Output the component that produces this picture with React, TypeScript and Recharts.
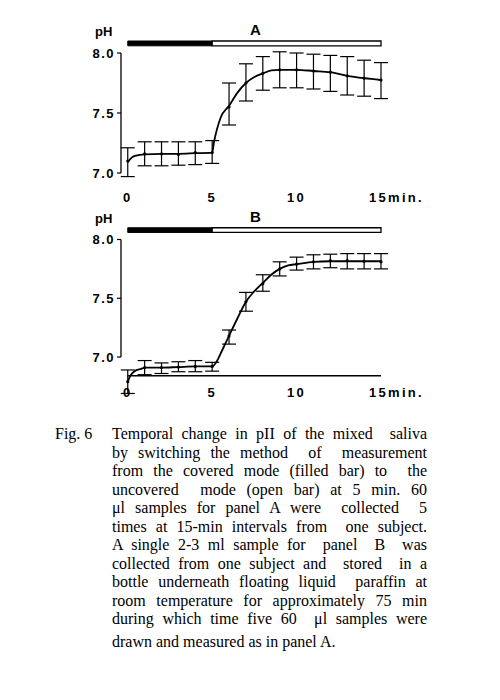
import React from 'react';
import { ComposedChart, Line, Scatter, ErrorBar, XAxis, YAxis, ReferenceArea, ReferenceLine } from 'recharts';

// sampling minutes for the error bars
const minutes = [0, 1, 2, 3, 4, 5, 6, 7, 8, 9, 10, 11, 12, 13, 14, 15];

// panel A
const meanA = [7.10, 7.16, 7.16, 7.155, 7.17, 7.17, 7.55, 7.75, 7.83, 7.86, 7.86, 7.85, 7.84, 7.81, 7.79, 7.775];
const upperA = [7.21, 7.26, 7.26, 7.26, 7.26, 7.27, 7.75, 7.91, 7.97, 8.01, 8.0, 7.99, 7.98, 7.97, 7.94, 7.92];
const lowerA = [6.97, 7.06, 7.06, 7.065, 7.07, 7.08, 7.40, 7.60, 7.69, 7.71, 7.71, 7.70, 7.68, 7.65, 7.64, 7.62];
const curveTimeA = [0, 0.25, 0.5, 1, 2, 3, 4, 5, 5.1, 5.5, 6, 6.5, 7, 7.5, 8, 8.5, 9, 10, 11, 12, 13, 14, 15];
const curvePhA = [7.09, 7.13, 7.145, 7.155, 7.16, 7.16, 7.165, 7.17, 7.25, 7.46, 7.56, 7.67, 7.75, 7.80, 7.83, 7.855, 7.86, 7.86, 7.85, 7.84, 7.81, 7.79, 7.775];

// panel B
const meanB = [6.79, 6.91, 6.91, 6.915, 6.92, 6.92, 7.18, 7.47, 7.625, 7.75, 7.79, 7.81, 7.82, 7.82, 7.815, 7.81];
const upperB = [6.89, 6.97, 6.95, 6.96, 6.97, 6.955, 7.23, 7.55, 7.70, 7.81, 7.85, 7.87, 7.875, 7.88, 7.88, 7.88];
const lowerB = [6.69, 6.85, 6.86, 6.875, 6.875, 6.88, 7.11, 7.39, 7.56, 7.69, 7.74, 7.75, 7.76, 7.75, 7.75, 7.75];
const curveTimeB = [0, 0.15, 0.4, 0.8, 1, 2, 3, 4, 5, 5.3, 5.6, 6, 6.5, 7, 7.5, 8, 8.5, 9, 9.5, 10, 11, 12, 13, 14, 15];
const curvePhB = [6.79, 6.84, 6.88, 6.9, 6.91, 6.91, 6.915, 6.92, 6.92, 6.97, 7.06, 7.18, 7.33, 7.47, 7.56, 7.63, 7.70, 7.75, 7.78, 7.79, 7.81, 7.815, 7.815, 7.815, 7.815];

const xTicks = [0, 5, 10, 15];
const yTicks = [7.0, 7.5, 8.0];
const coveredUntil = 5;
const endMinute = 15;

const captionLines = [
  'Temporal change in pII of the mixed  saliva',
  'by switching the method  of  measurement',
  'from the covered mode (filled bar) to  the',
  'uncovered  mode (open bar) at 5 min. 60',
  '\u03bcl samples for panel A were  collected  5',
  'times at 15-min intervals from  one subject.',
  'A single 2-3 ml sample for  panel  B  was',
  'collected from one subject and  stored  in a',
  'bottle underneath floating liquid  paraffin at',
  'room temperature for approximately 75 min',
  'during which time five 60  \u03bcl samples were',
  'drawn and measured as in panel A.',
];

const sans = '"Liberation Sans", Arial, sans-serif';

function MinuteTick(props: any) {
  const { x, y, payload, lift } = props;
  const last = payload.value === 15;
  return (
    <text x={last ? x - 12 : x} y={y - lift} textAnchor={last ? 'start' : 'middle'} dominantBaseline="central"
      fontFamily={sans} fontWeight="bold" fontSize={13} letterSpacing={2.3} fill="#000">
      {last ? '15min.' : payload.value}
    </text>
  );
}

function PhTick(props: any) {
  const { x, y, payload } = props;
  return (
    <text x={x} y={y} textAnchor="end" dominantBaseline="central" fontFamily={sans} fontWeight="bold"
      fontSize={13} letterSpacing={1.5} fill="#000">
      {payload.value.toFixed(1)}
    </text>
  );
}

function Panel(props: any) {
  const { letter, mean, upper, lower, curveT, curveP, top, height, yMin, lift, xLine } = props;
  const curve = curveT.map((t: number, i: number) => ({ t, ph: curveP[i] }));
  const bars = minutes.map((t, i) => ({ t, ph: mean[i], err: [mean[i] - lower[i], upper[i] - mean[i]] }));
  return (
    <div style={{ position: 'absolute', left: 0, top, width: 500, height }}>
      <div style={{ position: 'absolute', left: 95, top: 25, fontFamily: sans, fontWeight: 'bold', fontSize: 13, lineHeight: '14px' }}>pH</div>
      <div style={{ position: 'absolute', left: 250, top: 22, fontFamily: sans, fontWeight: 'bold', fontSize: 15, lineHeight: '16px' }}>{letter}</div>
      <ComposedChart width={500} height={height} data={curve} margin={{ top: 29, right: 119, bottom: 5, left: 0 }}>
        <XAxis type="number" dataKey="t" domain={[-0.4, 15]} ticks={xTicks} axisLine={false} tickLine={false}
          height={25} tick={<MinuteTick lift={lift} />} />
        <YAxis type="number" domain={[yMin, 8.2]} ticks={yTicks} width={121} axisLine={false}
          tickSize={4} tickLine={{ stroke: '#000', strokeWidth: 1.2 }} tick={<PhTick />} />
        <ReferenceArea x1={0} x2={coveredUntil} y1={8.06} y2={8.1} fill="#000" fillOpacity={1} stroke="#000" />
        <ReferenceArea x1={coveredUntil} x2={endMinute} y1={8.06} y2={8.1} fill="#fff" fillOpacity={1} stroke="#000" strokeWidth={1.3} />
        <ReferenceLine segment={[{ x: -0.4, y: 7.0 }, { x: -0.4, y: 8.0 }]} stroke="#000" strokeWidth={1.3} />
        {xLine && <ReferenceLine segment={[{ x: 0, y: xLine }, { x: 15, y: xLine }]} stroke="#000" strokeWidth={1.5} />}
        <Line type="monotone" dataKey="ph" stroke="#000" strokeWidth={1.8} dot={false} isAnimationActive={false} />
        <Scatter data={bars} dataKey="ph" fill="#000" isAnimationActive={false}
          shape={(p: any) => <circle cx={p.cx} cy={p.cy} r={1.6} fill="#000" />}>
          <ErrorBar dataKey="err" direction="y" width={7} stroke="#000" strokeWidth={1.2} />
        </Scatter>
      </ComposedChart>
    </div>
  );
}

export default function App() {
  return (
    <div style={{ position: 'absolute', left: 0, top: 0, width: 500, height: 700, background: '#fff' }}>
      <Panel letter="A" mean={meanA} upper={upperA} lower={lowerA} curveT={curveTimeA} curveP={curvePhA}
        top={0} height={215} yMin={6.9} lift={-4} />
      <Panel letter="B" mean={meanB} upper={upperB} lower={lowerB} curveT={curveTimeB} curveP={curvePhB}
        top={187} height={240} yMin={6.66} lift={13} xLine={6.84} />
      <div style={{ position: 'absolute', left: 55, top: 425, fontFamily: '"Liberation Serif", serif', fontSize: 16, lineHeight: '18.5px' }}>Fig. 6</div>
      <div style={{ position: 'absolute', left: 112, top: 425, width: 315, fontFamily: '"Liberation Serif", serif', fontSize: 16, lineHeight: '18.5px' }}>
        {captionLines.map((line, i) => {
          const last = i === captionLines.length - 1;
          return (
            <div key={i} style={{ textAlign: last ? 'left' : 'justify', textAlignLast: last ? 'left' : 'justify', marginTop: last ? 4 : 0, whiteSpace: 'pre-wrap' }}>
              {line}
            </div>
          );
        })}
      </div>
    </div>
  );
}
